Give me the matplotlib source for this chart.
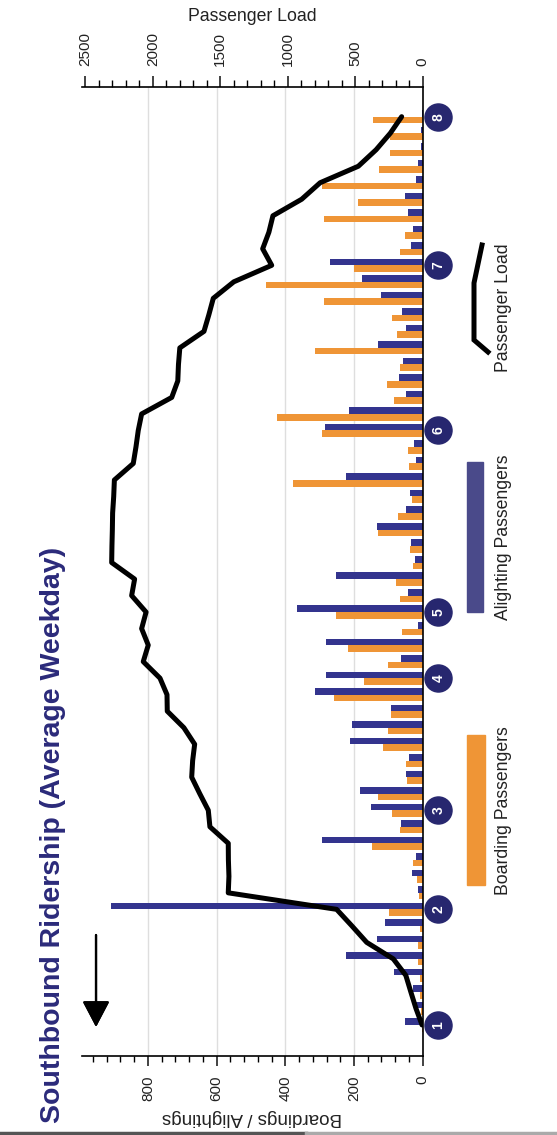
import numpy as np
import matplotlib.pyplot as plt
from matplotlib.patches import Rectangle
from matplotlib.lines import Line2D
from matplotlib.transforms import blended_transform_factory

plt.rcParams['font.family'] = ['Liberation Sans', 'DejaVu Sans']

# stop slots run from stop 1 (slot 0) to stop 8 (slot 55)
alighting = [52, 20, 27, 85, 223, 132, 110, 908, 13, 30,
             19, 292, 63, 151, 183, 49, 39, 212, 207, 92,
             314, 283, 64, 283, 13, 365, 42, 252, 22, 34,
             134, 50, 37, 223, 19, 24, 284, 214, 49, 69,
             56, 131, 49, 61, 121, 178, 270, 34, 29, 42,
             52, 20, 13, 6, 5, 3]
boarding = [3, 6, 8, 8, 14, 13, 8, 98, 11, 16,
            27, 149, 66, 88, 129, 47, 49, 117, 100, 92,
            258, 170, 100, 218, 61, 252, 66, 78, 29, 37,
            129, 71, 32, 377, 39, 44, 292, 425, 85, 103,
            66, 314, 74, 90, 286, 456, 200, 66, 51, 287,
            187, 294, 127, 95, 95, 146]
load = [5, 50, 88, 125, 218, 415, 525, 638, 1441, 1436,
        1440, 1441, 1577, 1589, 1652, 1712, 1705, 1690, 1770, 1893,
        1895, 1947, 2071, 2034, 2083, 2050, 2157, 2135, 2305, 2303,
        2300, 2298, 2290, 2285, 2145, 2125, 2108, 2083, 1860, 1815,
        1810, 1800, 1621, 1585, 1552, 1400, 1119, 1186, 1140, 1110,
        897, 760, 477, 345, 240, 156]
stop_slots = [0, 7, 13, 21, 25, 36, 46, 55]
stop_labels = ['1', '2', '3', '4', '5', '6', '7', '8']

BLUE = '#33348e'
ORANGE = '#ef9536'
NAVY = '#27276f'

slots = np.arange(len(alighting))

fig = plt.figure(figsize=(5.57, 11.35), dpi=100)
ax = fig.add_axes([0.1472, 0.0699, 0.6117, 0.8532])

ax.barh(slots + 0.2, alighting, height=0.4, color=BLUE, zorder=2)
ax.barh(slots - 0.2, boarding, height=0.4, color=ORANGE, zorder=2)
ax.set_xlim(992, 0)
ax.set_ylim(-1.86, 56.78)
ax.set_xticks([0, 200, 400, 600, 800])
ax.set_xticks(np.arange(0, 1000, 40), minor=True)
ax.set_yticks([])
ax.grid(axis='x', color='#dedede', lw=1)
ax.set_axisbelow(True)
for s in ['left', 'top']:
    ax.spines[s].set_visible(False)
ax.spines['bottom'].set_linewidth(1.2)
ax.spines['right'].set_linewidth(1.2)
ax.tick_params(axis='x', which='major', direction='out', length=7, width=1.2,
               labelsize=11, labelrotation=90, pad=7, colors='#222222')
ax.tick_params(axis='x', which='minor', direction='out', length=4, width=1)
ax.set_xlabel('Boardings / Alightings', rotation=180, fontsize=13.5,
              labelpad=6, color='#222222')

ax2 = ax.twiny()
ax2.plot(load, slots, color='black', lw=3.6, solid_joinstyle='round',
         solid_capstyle='round', zorder=3)
ax2.set_xlim(2525, 0)
ax2.set_xticks([0, 500, 1000, 1500, 2000, 2500])
ax2.set_xticks(np.arange(0, 2600, 100), minor=True)
for s in ['left', 'bottom', 'right']:
    ax2.spines[s].set_visible(False)
ax2.spines['top'].set_linewidth(1.2)
ax2.tick_params(axis='x', which='major', direction='out', length=8, width=1.2,
                labelsize=11, labelrotation=90, pad=7, colors='#222222')
ax2.tick_params(axis='x', which='minor', direction='out', length=5, width=1)
ax2.set_xlabel('Passenger Load', fontsize=12.7, labelpad=8, color='#222222')

# stop markers beside the zero line
trans = blended_transform_factory(ax.transAxes, ax.transData)
ax.scatter([1.046] * len(stop_slots), stop_slots, s=380, color=NAVY,
           transform=trans, clip_on=False, zorder=5)
for sl, lab in zip(stop_slots, stop_labels):
    ax.text(1.046, sl, lab, transform=trans, rotation=90, ha='center',
            va='center', color='white', fontsize=10, fontweight='bold',
            zorder=6, clip_on=False)

# title and direction arrow
fig.text(0.095, 0.2643, 'Southbound Ridership (Average Weekday)', rotation=90,
         ha='center', va='center', fontsize=20.5, fontweight='bold', color='#2b2a7a')
fig.add_artist(plt.annotate('', xy=(0.1724, 0.0952), xytext=(0.1724, 0.1762),
               xycoords='figure fraction', textcoords='figure fraction',
               arrowprops=dict(arrowstyle='-|>,head_length=0.8,head_width=0.42',
                               mutation_scale=20, lw=1.6, color='black',
                               shrinkA=0, shrinkB=0)))

# legend
W, H = 557.0, 1135.0
fig.add_artist(Rectangle((467 / W, 1 - 885 / H), 18 / W, 150 / H,
                         transform=fig.transFigure, color=ORANGE))
fig.add_artist(Rectangle((467 / W, 1 - 612 / H), 16 / W, 150 / H,
                         transform=fig.transFigure, color='#4a4a8a'))
lx = np.array([482, 474, 474, 488]) / W
ly = 1 - np.array([245, 283, 340, 352]) / H
fig.add_artist(Line2D(lx, ly, transform=fig.transFigure, color='black', lw=3.6,
                      solid_joinstyle='miter'))
for yy, txt in [(811, 'Boarding Passengers'), (537, 'Alighting Passengers'),
                (308, 'Passenger Load')]:
    fig.text(503 / W, 1 - yy / H, txt, rotation=90, ha='center', va='center',
             fontsize=12.7, color='#222222')

# screenshot edge
fig.add_artist(Line2D([0, 0.55], [0.0015, 0.0015], transform=fig.transFigure,
                      color='#555555', lw=2.5))
fig.add_artist(Line2D([0.55, 1], [0.0015, 0.0015], transform=fig.transFigure,
                      color='#aaaaaa', lw=2.5))

fig.savefig('out.png', dpi=100)
